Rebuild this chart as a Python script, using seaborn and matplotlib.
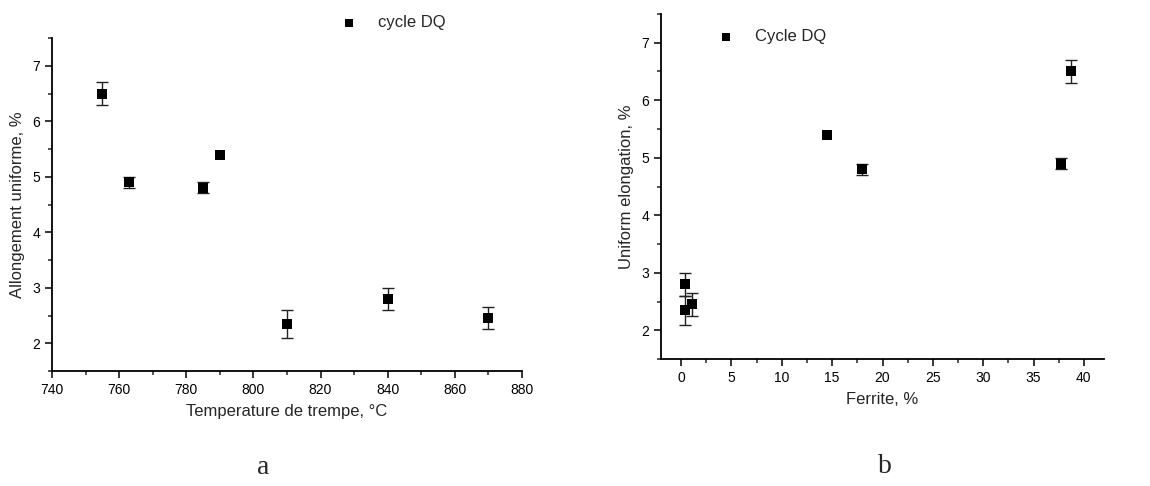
import numpy as np
import pandas as pd
import matplotlib
matplotlib.use("Agg")
import matplotlib.pyplot as plt
import seaborn as sns
from matplotlib.ticker import MultipleLocator

# data (a): quench temperature vs uniform elongation
temp_c = [755, 763, 785, 790, 810, 840, 870]
elong_a = [6.5, 4.9, 4.8, 5.4, 2.35, 2.8, 2.45]
err_a = [0.2, 0.1, 0.1, 0.0, 0.25, 0.2, 0.2]

# data (b): ferrite fraction vs uniform elongation
ferrite = [0.4, 0.4, 1.1, 14.5, 18.0, 37.7, 38.7]
elong_b = [2.8, 2.35, 2.45, 5.4, 4.8, 4.9, 6.5]
err_b = [0.2, 0.25, 0.2, 0.0, 0.1, 0.1, 0.2]

sns.set_style("ticks")
plt.rcParams['font.family'] = ['Liberation Sans', 'DejaVu Sans']

df_a = pd.DataFrame({"x": temp_c, "y": elong_a, "err": err_a})
df_b = pd.DataFrame({"x": ferrite, "y": elong_b, "err": err_b})

fig = plt.figure(figsize=(11.5, 4.86), dpi=100)
ax1 = fig.add_axes([0.0452, 0.2366, 0.4087, 0.6852])
ax2 = fig.add_axes([0.5748, 0.2613, 0.3852, 0.7099])


def draw(ax, df, label):
    e = df[df["err"] > 0]
    ax.errorbar(e["x"], e["y"], yerr=e["err"], fmt="none", ecolor="#222222",
                elinewidth=1.0, capsize=4.5, capthick=1.0, zorder=2)
    sns.scatterplot(data=df, x="x", y="y", ax=ax, marker="s", s=48,
                    color="black", edgecolor="black", linewidth=0,
                    label=label, zorder=3, legend=False)
    sns.despine(ax=ax)
    for sp in ["left", "bottom"]:
        ax.spines[sp].set_linewidth(1.3)
        ax.spines[sp].set_color("black")
    ax.tick_params(which="major", direction="out", length=5, width=1.1,
                   labelsize=10, colors="black")
    ax.tick_params(which="minor", direction="out", length=3, width=1.1)
    ax.set_ylim(1.5, 7.5)
    ax.yaxis.set_major_locator(MultipleLocator(1))
    ax.yaxis.set_minor_locator(MultipleLocator(0.5))


draw(ax1, df_a, "cycle DQ")
ax1.set_xlim(740, 880)
ax1.xaxis.set_major_locator(MultipleLocator(20))
ax1.xaxis.set_minor_locator(MultipleLocator(10))
ax1.set_xlabel("Temperature de trempe, °C", fontsize=12, labelpad=5)
ax1.set_ylabel("Allongement uniforme, %", fontsize=12, labelpad=5)

draw(ax2, df_b, "Cycle DQ")
ax2.set_xlim(-2, 42)
ax2.xaxis.set_major_locator(MultipleLocator(5))
ax2.xaxis.set_minor_locator(MultipleLocator(2.5))
ax2.set_xlabel("Ferrite, %", fontsize=12, labelpad=5)
ax2.set_ylabel("Uniform elongation, %", fontsize=12, labelpad=5)

# legends placed like in the original figure
for ax, pos in [(ax1, (0.2965, 0.9527)), (ax2, (0.6243, 0.9239))]:
    h, l = ax.get_legend_handles_labels()
    ax.legend(h, l, loc="center left", bbox_to_anchor=pos,
              bbox_transform=fig.transFigure, frameon=False, fontsize=12,
              handlelength=1.0, handletextpad=1.2, borderpad=0,
              borderaxespad=0, markerscale=0.8)

fig.text(263 / 1150, 1 - 468 / 486, "a", ha="center", va="center",
         fontsize=20, family="Liberation Serif")
fig.text(885 / 1150, 1 - 466 / 486, "b", ha="center", va="center",
         fontsize=20, family="Liberation Serif")

fig.savefig("out.png", dpi=100)
